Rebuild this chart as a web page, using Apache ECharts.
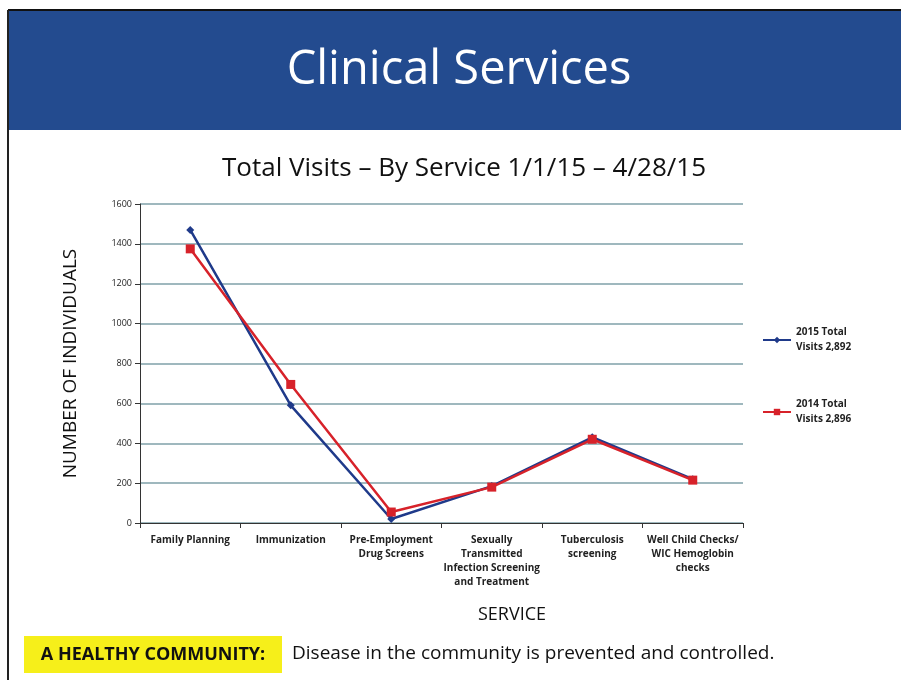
<!DOCTYPE html>
<html>
<head>
<meta charset="utf-8">
<script src="https://cdn.jsdelivr.net/npm/echarts@6/dist/echarts.min.js"></script>
<style>
  html, body { margin: 0; padding: 0; background: #fff; }
  #main { width: 901px; height: 680px; }
</style>
</head>
<body>
<div id="main"></div>
<script>
var services = [
  'Family Planning',
  'Immunization',
  'Pre-Employment\nDrug Screens',
  'Sexually\nTransmitted\nInfection Screening\nand Treatment',
  'Tuberculosis\nscreening',
  'Well Child Checks/\nWIC Hemoglobin\nchecks'
];
var visits2015 = [1470, 590, 20, 185, 430, 220];
var visits2014 = [1375, 695, 55, 180, 420, 215];
var seriesNames = ['2015 Total\nVisits 2,892', '2014 Total\nVisits 2,896'];

var font = '"Open Sans", "Noto Sans", sans-serif';
var chart = echarts.init(document.getElementById('main'));

var option = {
  backgroundColor: '#fff',
  textStyle: { fontFamily: font },
  title: {
    text: 'Total Visits \u2013 By Service 1/1/15 \u2013 4/28/15',
    left: 459,
    textAlign: 'center',
    top: 151,
    textStyle: { fontSize: 26, fontWeight: 'normal', color: '#111', fontFamily: font }
  },
  legend: {
    orient: 'vertical',
    left: 757,
    top: 320,
    itemGap: 42,
    itemWidth: 28,
    itemHeight: 8,
    textStyle: { fontSize: 10, fontWeight: 'bold', color: '#222', lineHeight: 15, fontFamily: font },
    data: seriesNames
  },
  grid: { left: 140, right: 158, top: 204, bottom: 157 },
  xAxis: {
    type: 'category',
    data: services,
    axisLine: { lineStyle: { color: '#333', width: 1 } },
    axisTick: { show: true, lineStyle: { color: '#333' } },
    axisLabel: { interval: 0, fontSize: 10, fontWeight: 'bold', color: '#222', lineHeight: 14, margin: 10, fontFamily: font }
  },
  yAxis: {
    type: 'value',
    min: 0,
    max: 1600,
    interval: 200,
    name: 'NUMBER OF INDIVIDUALS',
    nameLocation: 'middle',
    nameGap: 60,
    nameTextStyle: { fontSize: 19, color: '#111', fontFamily: font },
    axisLine: { show: true, lineStyle: { color: '#333' } },
    axisTick: { show: true, lineStyle: { color: '#333' } },
    axisLabel: { fontSize: 9, color: '#222', fontFamily: font, formatter: function (v) { return String(v); } },
    splitLine: { lineStyle: { color: '#7fa0a8', width: 1.5 } }
  },
  series: [
    {
      name: seriesNames[0],
      type: 'line',
      data: visits2015,
      symbol: 'diamond',
      symbolSize: 8,
      color: '#1f3a8a',
      lineStyle: { width: 2.5, color: '#1f3a8a' },
      itemStyle: { color: '#1f3a8a' },
      z: 3
    },
    {
      name: seriesNames[1],
      type: 'line',
      data: visits2014,
      symbol: 'rect',
      symbolSize: 9,
      color: '#d7222a',
      lineStyle: { width: 2.5, color: '#d7222a' },
      itemStyle: { color: '#d7222a' },
      z: 4
    }
  ],
  graphic: [
    { type: 'rect', shape: { x: 8, y: 10, width: 893, height: 120 }, style: { fill: '#234b8f' }, z: -1 },
    { type: 'line', shape: { x1: 8, y1: 10, x2: 901, y2: 10 }, style: { stroke: '#111', lineWidth: 2 } },
    { type: 'line', shape: { x1: 8, y1: 10, x2: 8, y2: 680 }, style: { stroke: '#222', lineWidth: 2 } },
    { type: 'text', x: 459, y: 71, style: { text: 'Clinical Services', fill: '#fff', font: '47px ' + font, textAlign: 'center', textVerticalAlign: 'middle' } },
    { type: 'text', x: 512, y: 615, style: { text: 'SERVICE', fill: '#111', font: '18px ' + font, textAlign: 'center', textVerticalAlign: 'middle' } },
    { type: 'rect', shape: { x: 24, y: 636, width: 258, height: 37 }, style: { fill: '#f6ef1a' } },
    { type: 'text', x: 153, y: 655, style: { text: 'A HEALTHY COMMUNITY:', fill: '#111', font: 'bold 18px ' + font, textAlign: 'center', textVerticalAlign: 'middle' } },
    { type: 'text', x: 292, y: 654, style: { text: 'Disease in the community is prevented and controlled.', fill: '#111', font: '19px ' + font, textAlign: 'left', textVerticalAlign: 'middle' } }
  ]
};
chart.setOption(option);
</script>
</body>
</html>
